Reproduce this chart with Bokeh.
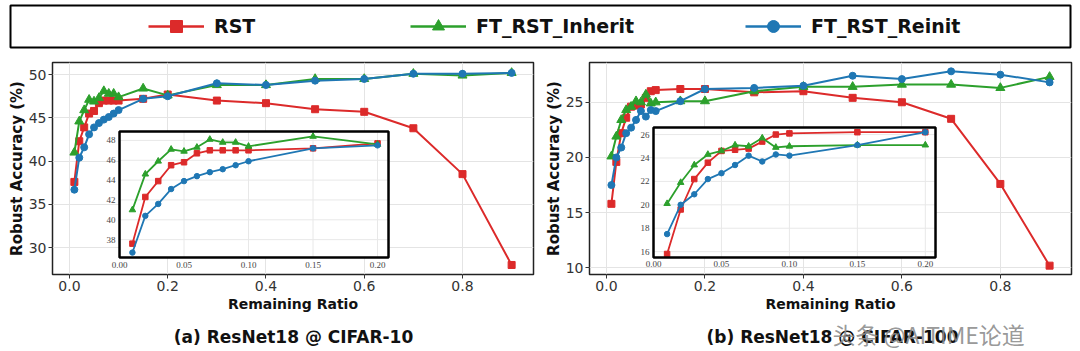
from bokeh.plotting import figure
from bokeh.models import (Range1d, FixedTicker, PrintfTickFormatter, Legend, LegendItem, Label)
from bokeh.layouts import column, row
from bokeh.embed import file_html
from bokeh.resources import INLINE

# ---------------- data ----------------
ratio = [0.01, 0.02, 0.03, 0.04, 0.05, 0.06, 0.07, 0.08, 0.09, 0.10,
         0.15, 0.20, 0.30, 0.40, 0.50, 0.60, 0.70, 0.80, 0.90]

c10_rst = [37.6, 42.3, 43.9, 45.5, 45.8, 46.7, 47.0, 47.0, 47.0, 47.0,
           47.2, 47.7, 47.0, 46.7, 46.0, 45.7, 43.8, 38.5, 28.0]
c10_inherit = [41.0, 44.6, 45.9, 47.1, 46.9, 47.3, 48.1, 47.8, 47.8, 47.4,
               48.4, 47.6, 48.8, 48.8, 49.5, 49.5, 50.1, 49.9, 50.2]
c10_reinit = [36.7, 40.4, 41.6, 43.1, 43.9, 44.4, 44.8, 45.1, 45.5, 45.9,
              47.2, 47.5, 49.0, 48.8, 49.3, 49.5, 50.1, 50.1, 50.2]

c100_rst = [15.8, 19.6, 22.2, 23.6, 24.6, 24.7, 24.8, 25.4, 26.0, 26.1,
            26.2, 26.2, 25.9, 26.0, 25.4, 25.0, 23.5, 17.6, 10.2]
c100_inherit = [20.1, 21.9, 23.4, 24.3, 24.6, 25.1, 25.0, 25.7, 24.9, 25.0,
                25.1, 25.1, 26.0, 26.4, 26.4, 26.6, 26.6, 26.3, 27.3]
c100_reinit = [17.5, 20.0, 20.9, 22.2, 22.7, 23.4, 24.2, 23.7, 24.3, 24.2,
               25.1, 26.2, 26.3, 26.5, 27.4, 27.1, 27.8, 27.5, 26.8]

series_names = ["RST", "FT_RST_Inherit", "FT_RST_Reinit"]
x_ticks = [0.0, 0.2, 0.4, 0.6, 0.8]
c10_y_ticks = [30, 35, 40, 45, 50]
c100_y_ticks = [10, 15, 20, 25]
inset_x_ticks = [0.00, 0.05, 0.10, 0.15, 0.20]
inset_x_labels = ["0.00", "0.05", "0.10", "0.15", "0.20"]
c10_inset_y_ticks = [38, 40, 42, 44, 46, 48]
c100_inset_y_ticks = [16, 18, 20, 22, 24, 26]
captions = ["(a) ResNet18 @ CIFAR-10", "(b) ResNet18 @ CIFAR-100"]
watermark = "头条 @AITIME论道"

# ---------------- style ----------------
COLORS = ["#dc2a2a", "#2ca02c", "#1f77b4"]
MARKERS = ["square", "triangle", "circle"]
SIZES = [7, 9, 7]
IN_SIZES = [5.5, 6.5, 5.5]
FONT = "DejaVu Sans"


def panel(rst, inh, rei, y_rng, y_ticks, in_x, in_y, in_yticks, tx, ty,
          b_left, b_right, f_width):
    p = figure(frame_width=f_width, frame_height=212,
               x_range=Range1d(-0.0345, 0.9445), y_range=Range1d(*y_rng),
               min_border_left=b_left, min_border_right=b_right,
               min_border_top=11, min_border_bottom=41,
               output_backend="svg", toolbar_location=None)
    p.background_fill_color = "white"
    p.border_fill_color = "white"
    p.outline_line_color = "#222222"
    p.outline_line_width = 1.5
    p.xaxis.ticker = FixedTicker(ticks=x_ticks)
    p.xaxis.formatter = PrintfTickFormatter(format="%.1f")
    p.yaxis.ticker = FixedTicker(ticks=y_ticks)
    p.yaxis.formatter = PrintfTickFormatter(format="%d")
    for ax in (p.xaxis, p.yaxis):
        ax.axis_line_color = None
        ax.major_tick_out = 4
        ax.major_tick_in = 0
        ax.major_tick_line_color = "#333333"
        ax.minor_tick_line_color = None
        ax.major_label_text_font = FONT
        ax.major_label_text_font_size = "14px"
        ax.major_label_text_color = "#333333"
        ax.major_label_standoff = 2
        ax.axis_label_text_font = FONT
        ax.axis_label_text_font_style = "bold"
        ax.axis_label_text_color = "#111111"
    p.xaxis.axis_label = "Remaining Ratio"
    p.xaxis.axis_label_text_font_size = "14px"
    p.xaxis.axis_label_standoff = 2
    p.yaxis.axis_label = "Robust Accuracy (%)"
    p.yaxis.axis_label_text_font_size = "15px"
    p.yaxis.axis_label_standoff = 0
    p.grid.grid_line_color = "#e4e4e4"

    data = [rst, inh, rei]
    for vals, c, m, s in zip(data, COLORS, MARKERS, SIZES):
        p.line(ratio, vals, line_color=c, line_width=2)
        p.scatter(ratio, vals, marker=m, size=s, fill_color=c, line_color=c)

    # inset
    idx = [i for i, r in enumerate(ratio) if r <= 0.2 + 1e-9]
    xs = [ratio[i] for i in idx]
    sub = p.subplot(x_source=Range1d(*in_x), y_source=Range1d(*in_y),
                    x_target=Range1d(*tx), y_target=Range1d(*ty))
    sub.quad(left=[in_x[0]], right=[in_x[1]], bottom=[in_y[0]], top=[in_y[1]],
             fill_color="white", line_color=None)
    sub.segment(x0=inset_x_ticks, x1=inset_x_ticks,
                y0=[in_y[0]] * len(inset_x_ticks), y1=[in_y[1]] * len(inset_x_ticks),
                line_color="#e8e8e8", line_width=1)
    sub.segment(x0=[in_x[0]] * len(in_yticks), x1=[in_x[1]] * len(in_yticks),
                y0=in_yticks, y1=in_yticks, line_color="#e8e8e8", line_width=1)
    for vals, c, m, s in zip(data, COLORS, MARKERS, IN_SIZES):
        v = [vals[i] for i in idx]
        sub.line(xs, v, line_color=c, line_width=1.8)
        sub.scatter(xs, v, marker=m, size=s, fill_color=c, line_color=c)
    sub.quad(left=[in_x[0]], right=[in_x[1]], bottom=[in_y[0]], top=[in_y[1]],
             fill_color=None, line_color="black", line_width=2.5)
    sub.text(x=inset_x_ticks, y=[in_y[0]] * len(inset_x_ticks), text=inset_x_labels,
             text_align="center", text_baseline="top", y_offset=4,
             text_font_size="9px", text_color="#444444", text_font=FONT)
    sub.text(x=[in_x[0]] * len(in_yticks), y=in_yticks,
             text=[str(t) for t in in_yticks],
             text_align="right", text_baseline="middle", x_offset=-4,
             text_font_size="9px", text_color="#444444", text_font=FONT)
    return p


left = panel(c10_rst, c10_inherit, c10_reinit, (26.9, 51.4), c10_y_ticks,
             (0.0, 0.2085), (36.2, 48.9), c10_inset_y_ticks,
             (0.1019, 0.6494), (28.86, 43.43), 52, 7, 481)
right = panel(c100_rst, c100_inherit, c100_reinit, (9.4, 28.6), c100_y_ticks,
              (0.0, 0.2075), (15.5, 26.6), c100_inset_y_ticks,
              (0.0955, 0.6683), (10.94, 22.71), 49, 9, 482)

# ---------------- legend strip ----------------
lg = figure(frame_width=1060, frame_height=42, min_border_left=10, min_border_right=10,
            min_border_top=5, min_border_bottom=4,
            x_range=Range1d(5, 6), y_range=Range1d(0, 1),
            x_axis_location=None, y_axis_location=None,
            output_backend="svg", toolbar_location=None)
lg.grid.visible = False
lg.outline_line_color = "black"
lg.outline_line_width = 2
leg_x = [138, 400, 735]
for name, vals, c, m, lx in zip(series_names, [c10_rst, c10_inherit, c10_reinit],
                                COLORS, MARKERS, leg_x):
    rl = lg.line(ratio, vals, line_color=c, line_width=2.5)
    rs = lg.scatter(ratio, vals, marker=m, size=12, fill_color=c, line_color=c)
    leg = Legend(items=[LegendItem(label=name, renderers=[rl, rs])],
                 location=(lx, 6), orientation="horizontal",
                 glyph_width=56, glyph_height=30, label_height=30,
                 label_standoff=10, padding=0, margin=0, spacing=0,
                 border_line_alpha=0, background_fill_alpha=0,
                 label_text_font=FONT, label_text_font_style="bold",
                 label_text_font_size="19px", label_text_color="#111111")
    lg.add_layout(leg)

# ---------------- caption strip ----------------
cap = figure(frame_width=1080, frame_height=35, min_border=0,
             x_range=Range1d(0, 1080), y_range=Range1d(0, 35),
             x_axis_location=None, y_axis_location=None,
             output_backend="svg", toolbar_location=None)
cap.grid.visible = False
cap.outline_line_color = None
for cx, txt in zip([283, 822], captions):
    cap.add_layout(Label(x=cx, y=14, text=txt, text_align="center",
                         text_baseline="middle", text_font=FONT,
                         text_font_size="17px", text_font_style="bold",
                         text_color="#111111"))
cap.add_layout(Label(x=822, y=17, text=watermark, text_align="left",
                     text_baseline="middle", text_font="Noto Sans CJK SC",
                     text_font_size="23px", text_color="#8c8c8c", text_alpha=0.9))

layout = column(lg, row(left, right), cap)
open("out.html", "w").write(file_html(layout, INLINE))
